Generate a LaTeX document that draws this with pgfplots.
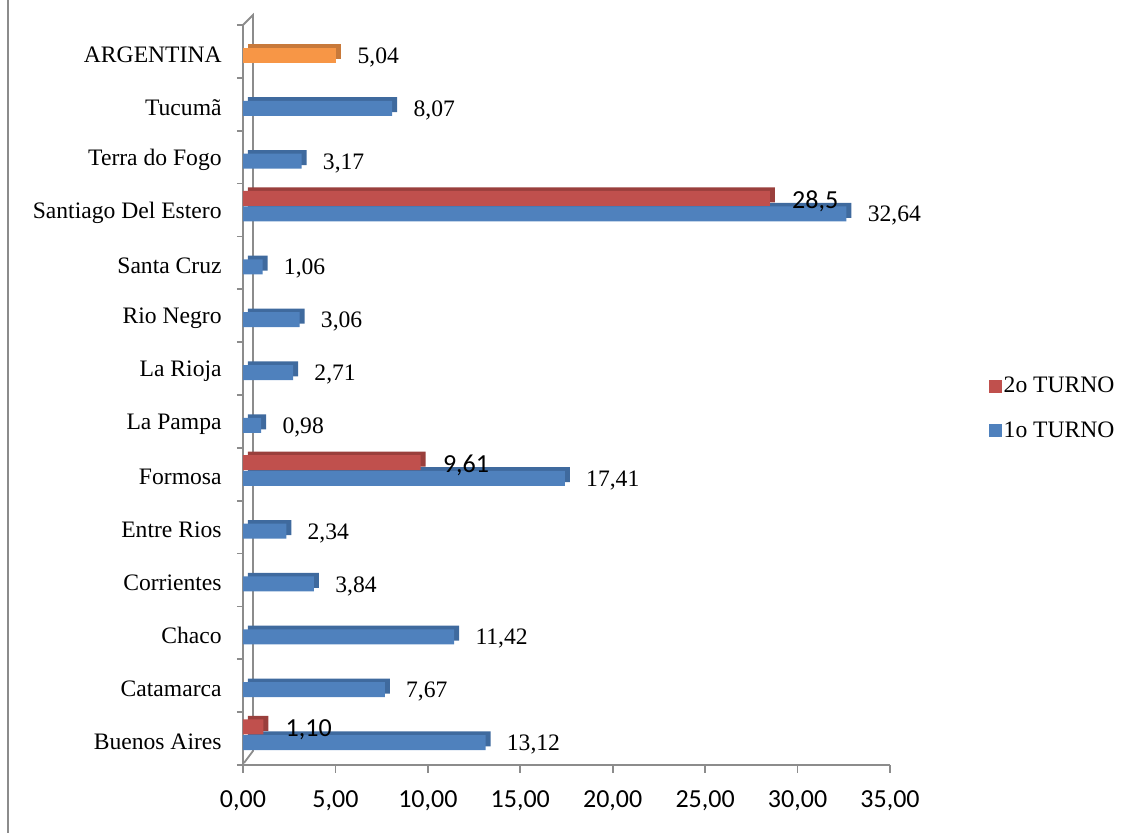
\documentclass[border=0pt]{standalone}
\usepackage{pgfplots}
\pgfplotsset{compat=1.18}
\usepackage{pgfplotstable}
\usepackage{fontspec}
\setmainfont{Liberation Serif}
\newfontfamily\carlito{Carlito}

\definecolor{bluefront}{HTML}{4F81BD}
\definecolor{blueside}{HTML}{3F6A9E}
\definecolor{redfront}{HTML}{C0504D}
\definecolor{redside}{HTML}{9A3F3C}
\definecolor{orangefront}{HTML}{F79646}
\definecolor{orangeside}{HTML}{C8793A}
\definecolor{axisgray}{HTML}{8C8C8C}

\pgfplotstableread{
y x label
0 13.12 {13,12}
1 7.67 {7,67}
2 11.42 {11,42}
3 3.84 {3,84}
4 2.34 {2,34}
5 17.41 {17,41}
6 0.98 {0,98}
7 2.71 {2,71}
8 3.06 {3,06}
9 1.06 {1,06}
10 32.64 {32,64}
11 3.17 {3,17}
12 8.07 {8,07}
}\primeiro

\pgfplotstableread{
y x label
0 1.10 {1,10}
5 9.61 {9,61}
10 28.5 {28,5}
}\segundo

\pgfplotstableread{
y x label
13 5.04 {5,04}
}\argentina

\begin{document}
\begin{tikzpicture}[font=\fontsize{11.8}{14}\selectfont]
\useasboundingbox (0,0) rectangle (565.5pt,416.5pt);
% chart area border
\draw[axisgray, line width=1pt] (4pt,0) -- (4pt,416.5pt);
% back wall
\draw[axisgray, line width=0.9pt] (121.5pt,404pt) -- (126.5pt,409pt) -- (126.5pt,41pt) -- (122pt,35pt);
\begin{axis}[
  at={(121.5pt,34pt)}, anchor=south west,
  scale only axis, width=323.5pt, height=370pt,
  xmin=0, xmax=35, ymin=-0.5, ymax=13.5,
  xbar, bar width=7.5pt,
  axis lines*=left,
  axis line style={axisgray, line width=0.9pt},
  tick align=outside,
  major tick length=4pt,
  minor tick length=3pt,
  tick style={axisgray, line width=0.9pt},
  xtick={0,5,...,35},
  xticklabels={{0,00},{5,00},{10,00},{15,00},{20,00},{25,00},{30,00},{35,00}},
  xticklabel style={font=\carlito\fontsize{13}{15}\selectfont, inner sep=0pt, anchor=center, yshift=-14pt},
  ytick={0,...,13},
  yticklabels={Buenos Aires,Catamarca,Chaco,Corrientes,Entre Rios,Formosa,La Pampa,La Rioja,Rio Negro,Santa Cruz,Santiago Del Estero,Terra do Fogo,Tucumã,ARGENTINA},
  major y tick style={draw=none},
  minor ytick={-0.5,0.5,...,13.5},
  yticklabel style={inner sep=0pt, anchor=east, xshift=-6.5pt, yshift=-1.5pt},
  clip=false,
  legend cell align=left,
  legend style={draw=none, fill=none, at={(1.143,0.533)}, anchor=north west,
    row sep=11pt, nodes={inner sep=1pt, font=\fontsize{11.8}{14}\selectfont}},
]
% blue series
\addplot[fill=blueside, draw=none, bar shift=-2pt, xshift=2.5pt, yshift=1.8pt, forget plot]
  table[x=x, y=y] {\primeiro};
\addplot[fill=bluefront, draw=none, bar shift=-2pt, forget plot,
  nodes near coords, point meta=explicit symbolic,
  every node near coord/.append style={anchor=west, inner sep=0pt, xshift=10.5pt, yshift=-1pt, text=black}]
  table[x=x, y=y, meta=label] {\primeiro};
% orange Argentina
\addplot[fill=orangeside, draw=none, bar shift=-2pt, xshift=2.5pt, yshift=1.8pt, forget plot]
  table[x=x, y=y] {\argentina};
\addplot[fill=orangefront, draw=none, bar shift=-2pt, forget plot,
  nodes near coords, point meta=explicit symbolic,
  every node near coord/.append style={anchor=west, inner sep=0pt, xshift=10.5pt, yshift=-1pt, text=black}]
  table[x=x, y=y, meta=label] {\argentina};
% red series
\addplot[fill=redside, draw=none, bar shift=5.8pt, xshift=2.5pt, yshift=1.8pt, forget plot]
  table[x=x, y=y] {\segundo};
\addplot[fill=redfront, draw=none, bar shift=5.8pt, forget plot,
  nodes near coords, point meta=explicit symbolic,
  every node near coord/.append style={anchor=west, inner sep=0pt, xshift=11pt, yshift=-1.5pt, text=black, font=\carlito\fontsize{13}{15}\selectfont}]
  table[x=x, y=y, meta=label] {\segundo};
% legend
\addlegendimage{legend image code/.code={\fill[redfront] (-1pt,-3pt) rectangle (5pt,3pt);}}
\addlegendentry{2o TURNO}
\addlegendimage{legend image code/.code={\fill[bluefront] (-1pt,-3pt) rectangle (5pt,3pt);}}
\addlegendentry{1o TURNO}
\end{axis}
\end{tikzpicture}
\end{document}
